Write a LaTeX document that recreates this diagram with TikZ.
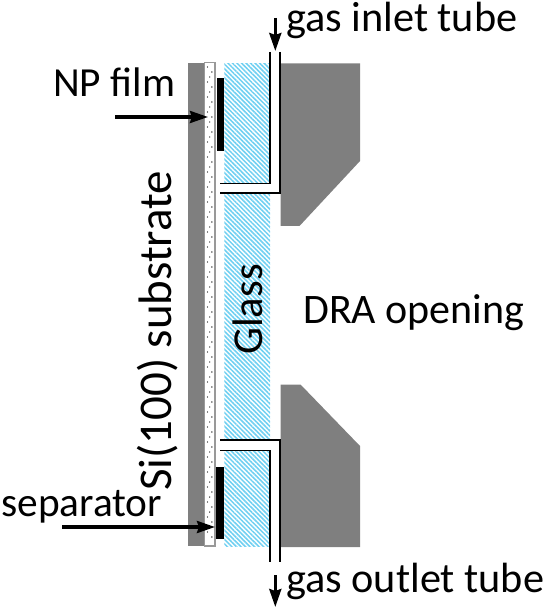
\documentclass[tikz,border=0pt]{standalone}
\usepackage{fontspec}
\setmainfont{Carlito}
\usetikzlibrary{arrows.meta, patterns.meta}
\definecolor{mGray}{HTML}{7F7F7F}
\definecolor{mGlass}{HTML}{6FD0F2}
\begin{document}
\begin{tikzpicture}[x=0.75pt, y=-0.75pt,
      lbl/.style={font=\fontsize{#1}{#1}\selectfont, inner sep=0pt, anchor=base west},
      tube/.style={draw=black, line width=1.3pt},
      glassbox/.style={fill=white, postaction={pattern={Lines[angle=-45, distance=2.4pt, line width=1.15pt]}, pattern color=mGlass}},
      pointer/.style={draw=black, line width=2.4pt, -{Stealth[length=13.5pt,width=9pt,inset=1.5pt]}}]
    \useasboundingbox (0,0) rectangle (545,609);
    % substrate and DRA body
    \fill[mGray] (188,63) rectangle (204,546);
    \fill[mGray] (280.5,63.5) -- (360,63.5) -- (360,161) -- (299.5,226) -- (280.5,226) -- cycle;
    \fill[mGray] (280.5,384.5) -- (300.5,384.5) -- (360,446) -- (360,547) -- (280.5,547) -- cycle;
    % glass
    \path[glassbox] (224.3,63.3) rectangle (270,184);
    \path[glassbox] (224.3,194) rectangle (270,440);
    \path[glassbox] (224.3,451) rectangle (270,546);
    % dotted strip
    \draw[black!40, line width=0.8pt, fill=white] (204.5,62.5) rectangle (215,546);
    \foreach \row in {0,...,94} {
      \pgfmathsetmacro{\dotx}{207.5+2.2*mod(\row*2,3)}
      \fill[black] (\dotx,67+5*\row) circle (0.7);
    }
    % NP film and separator
    \fill[black] (217,78) rectangle (224.3,151);
    \fill[black] (215.5,467) rectangle (224.3,539);
    % tubes
    \fill[white] (270,52) rectangle (280,193);
    \fill[white] (220,184) rectangle (280,193);
    \fill[white] (270,440) rectangle (280,562);
    \fill[white] (220,440) rectangle (280,450);
    \draw[tube] (270,52) -- (270,183.5) -- (220,183.5);
    \draw[tube] (280,52) -- (280,193) -- (220,193);
    \draw[tube] (220,440) -- (280,440) -- (280,562);
    \draw[tube] (220,450.5) -- (270,450.5) -- (270,562);
    % labels
    \node[lbl=31.7] (inlet) at (286,32) {gas inlet tube};
    \node[lbl=31.7] (outlet) at (286,592) {gas outlet tube};
    \node[lbl=31] (film) at (53,97) {NP film};
    \node[lbl=31] (sep) at (1,516) {separator};
    \node[lbl=31.5] (dra) at (303,323) {DRA opening};
    \node[lbl=32, rotate=90] (glass) at (262,355) {Glass};
    \node[lbl=35.2, rotate=90] (si) at (171,491) {Si(100) substrate};
    % arrows
    \coordinate (inA) at (275.3,18);
    \coordinate (inB) at (275.3,51);
    \coordinate (outA) at (275.3,575);
    \coordinate (outB) at (275.3,607);
    \coordinate (filmA) at (115,117);
    \coordinate (filmB) at (208,117);
    \coordinate (sepA) at (62,527);
    \coordinate (sepB) at (215,527);
    \draw[pointer] (inA) -- (inB);
    \draw[pointer] (outA) -- (outB);
    \draw[pointer] (filmA) -- (filmB);
    \draw[pointer] (sepA) -- (sepB);
  \end{tikzpicture}
\end{document}
